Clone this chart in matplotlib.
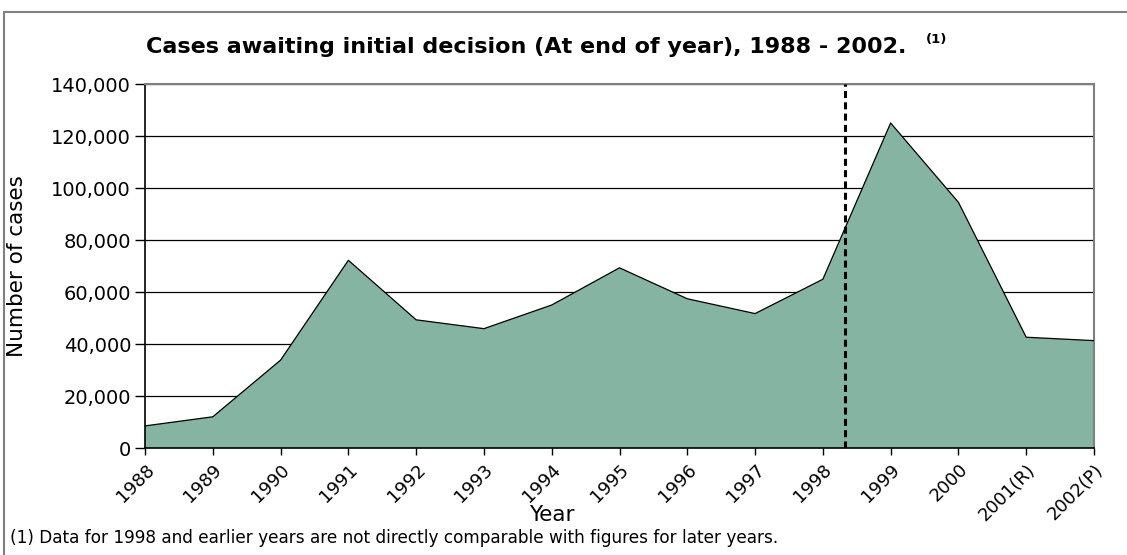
import matplotlib
matplotlib.use("Agg")
import matplotlib.pyplot as plt
from matplotlib.patches import Rectangle
from matplotlib.ticker import FuncFormatter, MultipleLocator

plt.rcParams['font.family'] = ['DejaVu Sans']

years = ['1988', '1989', '1990', '1991', '1992', '1993', '1994', '1995',
         '1996', '1997', '1998', '1999', '2000', '2001(R)', '2002(P)']
cases = [8500, 12000, 33800, 72200, 49300, 45900, 55000, 69300,
         57400, 51700, 64900, 125000, 94500, 42600, 41300]

# break in the series comparability falls between 1998 and 1999
break_pos = 10.33

W, H = 1127, 555
fig = plt.figure(figsize=(W / 100, H / 100), dpi=100)
ax = fig.add_axes([145 / W, 1 - 448 / H, (1094 - 145) / W, (448 - 84) / H])

xs = list(range(len(years)))
ax.fill_between(xs, cases, 0, facecolor='#86b4a2', edgecolor='none', zorder=2)
ax.plot(xs, cases, color='black', lw=0.9, zorder=3)

ax.axvline(break_pos, color='black', lw=2.2, dashes=(2.3, 1.4), zorder=4)

ax.set_xlim(0, len(years) - 1)
ax.set_ylim(0, 140000)
ax.yaxis.set_major_locator(MultipleLocator(20000))
ax.yaxis.set_major_formatter(FuncFormatter(lambda v, p: f'{int(v):,}'))
ax.grid(axis='y', color='black', lw=0.9, zorder=1)
ax.set_axisbelow(True)

ax.set_xticks(xs)
ax.set_xticklabels(years, rotation=45, ha='right', va='top',
                   rotation_mode='anchor', fontsize=13)
ax.tick_params(axis='x', length=5, width=1, direction='out', pad=4)
ax.tick_params(axis='y', length=7, width=1, direction='out', labelsize=14, pad=3)

for side in ('left', 'bottom'):
    ax.spines[side].set_color('black')
    ax.spines[side].set_linewidth(1.2)
for side in ('right', 'top'):
    ax.spines[side].set_color('#808080')
    ax.spines[side].set_linewidth(1.5)

ax.set_ylabel('Number of cases', fontsize=15.5)
ax.yaxis.set_label_coords(27 / W, 1 - 266 / H, transform=fig.transFigure)

fig.text(552 / W, 1 - 515 / H, 'Year', fontsize=15.5, ha='center', va='center')
fig.text(526 / W, 1 - 47 / H,
         'Cases awaiting initial decision (At end of year), 1988 - 2002.',
         fontsize=16, fontweight='bold', ha='center', va='center')
fig.text(937 / W, 1 - 40 / H, '(1)', fontsize=9.5, fontweight='bold',
         ha='center', va='center')
fig.text(10 / W, 1 - 538 / H,
         '(1) Data for 1998 and earlier years are not directly comparable '
         'with figures for later years.',
         fontsize=12.2, ha='left', va='center')

# outer chart frame
fig.add_artist(Rectangle((4 / W, -0.1), 1.2, 1 - 12 / H + 0.1,
                         transform=fig.transFigure, fill=False,
                         edgecolor='#808080', lw=1.5))

fig.savefig('out.png', dpi=100)
